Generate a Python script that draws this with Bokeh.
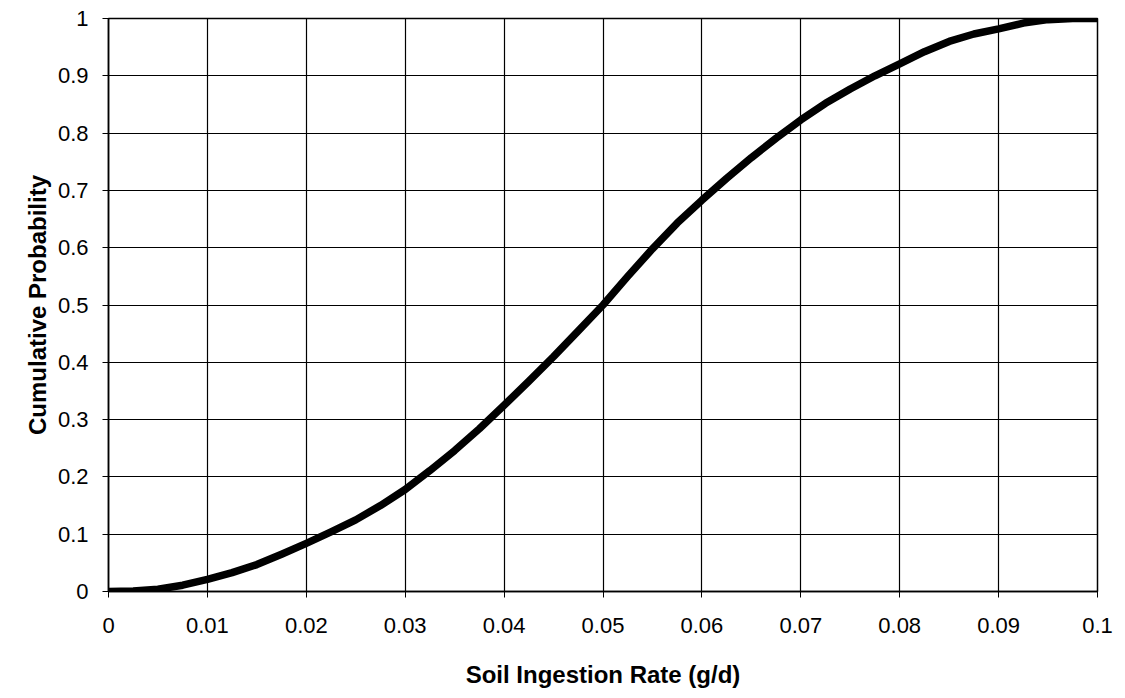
from bokeh.plotting import figure
from bokeh.models import FixedTicker, Range1d
from bokeh.embed import file_html
from bokeh.resources import INLINE

# Data
rate = [0.0, 0.0025, 0.005, 0.0075, 0.01, 0.0125, 0.015, 0.0175, 0.02, 0.0225,
        0.025, 0.0275, 0.03, 0.0325, 0.035, 0.0375, 0.04, 0.0425, 0.045, 0.0475,
        0.05, 0.0525, 0.055, 0.0575, 0.06, 0.0625, 0.065, 0.0675, 0.07, 0.0725,
        0.075, 0.0775, 0.08, 0.0825, 0.085, 0.0875, 0.09, 0.0925, 0.095, 0.0975, 0.1]
prob = [0.0, 0.001, 0.004, 0.011, 0.021, 0.033, 0.047, 0.065, 0.084, 0.104,
        0.125, 0.150, 0.178, 0.211, 0.246, 0.284, 0.325, 0.367, 0.410, 0.455,
        0.500, 0.550, 0.598, 0.643, 0.683, 0.721, 0.757, 0.791, 0.823, 0.852,
        0.877, 0.900, 0.921, 0.942, 0.960, 0.973, 0.982, 0.992, 0.998, 1.0, 1.0]

x_ticks = [0.0, 0.01, 0.02, 0.03, 0.04, 0.05, 0.06, 0.07, 0.08, 0.09, 0.1]
x_labels = ["0", "0.01", "0.02", "0.03", "0.04", "0.05", "0.06", "0.07", "0.08", "0.09", "0.1"]
y_ticks = [0.0, 0.1, 0.2, 0.3, 0.4, 0.5, 0.6, 0.7, 0.8, 0.9, 1.0]
y_labels = ["0", "0.1", "0.2", "0.3", "0.4", "0.5", "0.6", "0.7", "0.8", "0.9", "1"]

x_title = "Soil Ingestion Rate (g/d)"
y_title = "Cumulative Probability"

FONT = "Liberation Sans"

p = figure(width=1113, height=690, output_backend="svg", toolbar_location=None,
           x_range=Range1d(0, 0.1), y_range=Range1d(0, 1),
           min_border_left=108, min_border_right=16, min_border_top=18, min_border_bottom=18)

p.line(rate, prob, line_width=7.5, line_color="black", line_join="round", line_cap="round")

p.outline_line_color = "black"
p.outline_line_width = 1.5

for ax, ticks, labels in ((p.xaxis[0], x_ticks, x_labels), (p.yaxis[0], y_ticks, y_labels)):
    ax.ticker = FixedTicker(ticks=ticks)
    ax.major_label_overrides = {t: l for t, l in zip(ticks, labels)}
    ax.major_label_text_font = FONT
    ax.major_label_text_font_size = "22px"
    ax.major_label_text_color = "black"
    ax.axis_label_text_font = FONT
    ax.axis_label_text_font_style = "bold"
    ax.axis_label_text_font_size = "24px"
    ax.axis_label_text_color = "black"
    ax.axis_line_color = "black"
    ax.axis_line_width = 1.5
    ax.major_tick_line_color = "black"
    ax.major_tick_out = 6
    ax.major_tick_in = 0
    ax.minor_tick_line_color = None

p.xaxis.axis_label = x_title
p.yaxis.axis_label = y_title
p.xaxis.major_label_standoff = 20
p.xaxis.axis_label_standoff = 25
p.yaxis.major_label_standoff = 14
p.yaxis.axis_label_standoff = 4

p.xgrid.ticker = FixedTicker(ticks=x_ticks)
p.ygrid.ticker = FixedTicker(ticks=y_ticks)
for g in (p.xgrid[0], p.ygrid[0]):
    g.grid_line_color = "black"
    g.grid_line_width = 1.2
    g.grid_line_alpha = 1.0

p.background_fill_color = "white"
p.border_fill_color = "white"

open("out.html", "w").write(file_html(p, INLINE))
